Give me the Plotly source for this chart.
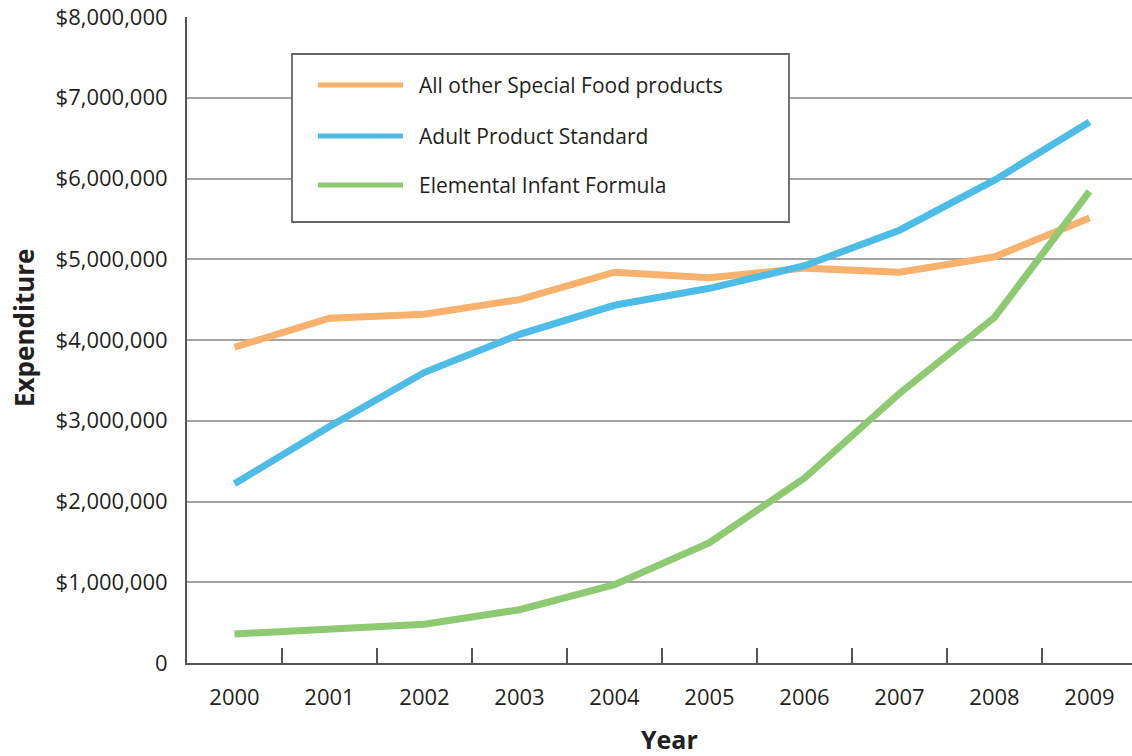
import plotly.graph_objects as go

years = ["2000", "2001", "2002", "2003", "2004", "2005", "2006", "2007", "2008", "2009"]
all_other = [3910000, 4270000, 4320000, 4500000, 4840000, 4770000, 4890000, 4840000, 5030000, 5510000]
adult_std = [2220000, 2930000, 3600000, 4070000, 4430000, 4640000, 4920000, 5360000, 5980000, 6700000]
elemental = [360000, 430000, 480000, 660000, 970000, 1490000, 2290000, 3340000, 4280000, 5840000]

series_names = ["All other Special Food products", "Adult Product Standard", "Elemental Infant Formula"]
series_values = [all_other, adult_std, elemental]
series_colors = ["#F9B26E", "#4DBDE8", "#8DCA72"]

y_tickvals = [0, 1000000, 2000000, 3000000, 4000000, 5000000, 6000000, 7000000, 8000000]
y_ticktext = ["0", "$1,000,000", "$2,000,000", "$3,000,000", "$4,000,000",
              "$5,000,000", "$6,000,000", "$7,000,000", "$8,000,000"]

W, H = 1132, 756
ML, MR, MT, MB = 187, 0, 17, 93
PW, PH = W - ML - MR, H - MT - MB
TEXT = "#231F20"
FONT = "Open Sans"


def px_x(p):
    return (p - ML) / PW


def px_y(p):
    return (H - MB - p) / PH


fig = go.Figure()
for name, vals, col in zip(series_names, series_values, series_colors):
    fig.add_trace(go.Scatter(x=years, y=vals, mode="lines", name=name,
                             line=dict(color=col, width=7), showlegend=False))

# custom legend box
shapes = [dict(type="rect", xref="paper", yref="paper",
               x0=px_x(292), x1=px_x(789), y0=px_y(222), y1=px_y(54),
               line=dict(color="#666666", width=1.8), fillcolor="white", layer="above")]
annotations = []
row_y = [85, 136, 185]
for name, col, ry in zip(series_names, series_colors, row_y):
    shapes.append(dict(type="line", xref="paper", yref="paper",
                       x0=px_x(318), x1=px_x(403), y0=px_y(ry), y1=px_y(ry),
                       line=dict(color=col, width=5), layer="above"))
    annotations.append(dict(text=name, xref="paper", yref="paper", x=px_x(417), y=px_y(ry),
                            xanchor="left", yanchor="middle", showarrow=False,
                            font=dict(family=FONT, size=21, color=TEXT)))

annotations.append(dict(text="<b>Expenditure</b>", xref="paper", yref="paper",
                        x=px_x(24), y=px_y(328), textangle=-90, showarrow=False,
                        xanchor="center", yanchor="middle",
                        font=dict(family=FONT, size=26, color=TEXT)))
annotations.append(dict(text="<b>Year</b>", xref="paper", yref="paper",
                        x=px_x(669), y=px_y(739), showarrow=False,
                        xanchor="center", yanchor="middle",
                        font=dict(family=FONT, size=25, color=TEXT)))

fig.update_layout(
    width=W, height=H,
    margin=dict(l=ML, r=MR, t=MT, b=MB),
    plot_bgcolor="white", paper_bgcolor="white",
    font=dict(family=FONT, size=22, color=TEXT),
    shapes=shapes, annotations=annotations,
    xaxis=dict(type="category", range=[-0.5, -0.5 + PW / 95.0],
               tickson="boundaries", ticks="inside", ticklen=15, tickwidth=2,
               tickcolor="#555555", showgrid=False, showline=True,
               linecolor="#555555", linewidth=2, ticklabelstandoff=14,
               tickfont=dict(family=FONT, size=22, color=TEXT), zeroline=False),
    yaxis=dict(range=[0, 8000000], tickvals=y_tickvals, ticktext=y_ticktext,
               showgrid=True, gridcolor="#A3A3A3", gridwidth=1.6,
               showline=True, linecolor="#555555", linewidth=2, ticks="",
               ticklabelstandoff=13, zeroline=False,
               tickfont=dict(family=FONT, size=22, color=TEXT)),
)

fig.write_html("out.html")
